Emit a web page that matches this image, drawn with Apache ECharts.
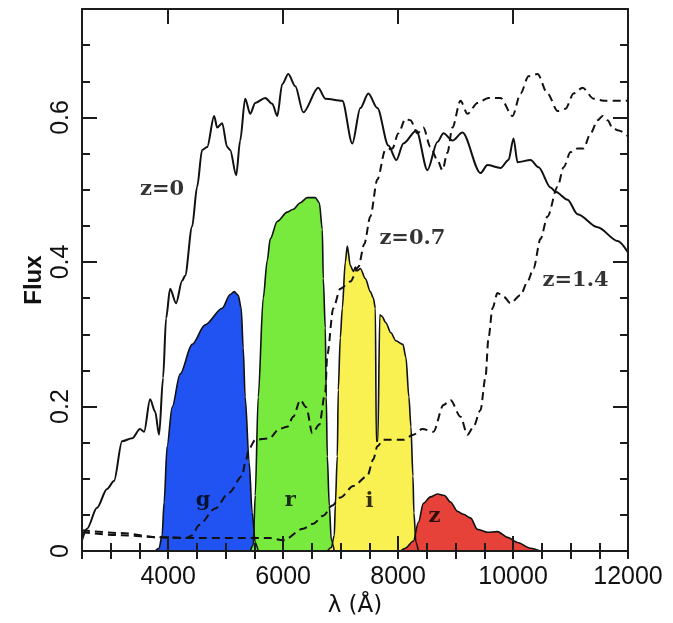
<!DOCTYPE html>
<html lang="en">
    <head>
        <meta charset="UTF-8" />
        <title>Spectra and ugriz filters</title>
        <script src="https://cdn.jsdelivr.net/npm/echarts@6.0.0/dist/echarts.min.js"></script>
    </head>
    <body style="margin: 0; background: #fff">
        <!-- Chart container -->
        <div id="main" style="width: 673px; height: 623px"></div>

        <script>
            // Wavelength (Angstrom), flux pairs
            const z0Spectrum = [
                [2500, 0.015], [2587, 0.031], [2761, 0.06], [2936, 0.086], [3057, 0.097],
                [3197, 0.152], [3371, 0.156], [3510, 0.169], [3580, 0.165], [3685, 0.21],
                [3772, 0.193], [3841, 0.161], [3911, 0.24], [3963, 0.322], [4033, 0.363],
                [4137, 0.343], [4242, 0.374], [4294, 0.381], [4416, 0.449], [4503, 0.504],
                [4590, 0.555], [4678, 0.559], [4799, 0.602], [4852, 0.586], [4939, 0.592],
                [5026, 0.559], [5078, 0.555], [5183, 0.52], [5252, 0.568], [5339, 0.626],
                [5427, 0.605], [5514, 0.62], [5688, 0.627], [5810, 0.619], [5897, 0.602],
                [5984, 0.646], [6089, 0.66], [6211, 0.643], [6350, 0.607], [6611, 0.641],
                [6733, 0.626], [7029, 0.623], [7203, 0.564], [7343, 0.613], [7482, 0.633],
                [7639, 0.613], [7831, 0.561], [7970, 0.541], [8092, 0.564], [8318, 0.582],
                [8510, 0.527], [8684, 0.566], [8789, 0.578], [8945, 0.568], [9120, 0.579],
                [9433, 0.523], [9555, 0.534], [9782, 0.53], [9921, 0.541], [10008, 0.571],
                [10078, 0.538], [10304, 0.541], [10444, 0.531], [10653, 0.503], [10740, 0.497],
                [10949, 0.486], [11123, 0.466], [11471, 0.448], [11820, 0.429], [12000, 0.413]
            ];

            const z07Spectrum = [
                [2500, 0.029], [3162, 0.025], [3858, 0.019], [4329, 0.018], [4416, 0.022],
                [4538, 0.036], [4817, 0.059], [5061, 0.081], [5287, 0.104], [5339, 0.122],
                [5409, 0.142], [5514, 0.154], [5758, 0.156], [5932, 0.169], [6071, 0.172],
                [6176, 0.186], [6298, 0.209], [6402, 0.199], [6507, 0.163], [6629, 0.175],
                [6733, 0.22], [6768, 0.272], [6872, 0.336], [6994, 0.363], [7169, 0.373],
                [7308, 0.393], [7412, 0.425], [7517, 0.463], [7639, 0.514], [7778, 0.555],
                [7900, 0.557], [8005, 0.578], [8127, 0.598], [8214, 0.596], [8336, 0.578],
                [8440, 0.586], [8562, 0.559], [8684, 0.541], [8771, 0.527], [8858, 0.551],
                [8945, 0.586], [9085, 0.623], [9207, 0.605], [9381, 0.62], [9573, 0.627],
                [9782, 0.627], [9991, 0.602], [10130, 0.633], [10269, 0.657], [10426, 0.66],
                [10600, 0.633], [10775, 0.609], [10914, 0.612], [11053, 0.633], [11210, 0.641],
                [11401, 0.626], [11576, 0.623], [12000, 0.623]
            ];

            const z14Spectrum = [
                [2500, 0.026], [3162, 0.022], [3858, 0.019], [4556, 0.018], [5252, 0.018],
                [5775, 0.018], [6001, 0.015], [6350, 0.031], [6524, 0.038], [6698, 0.049],
                [6855, 0.063], [6994, 0.074], [7221, 0.09], [7465, 0.104], [7569, 0.127],
                [7639, 0.145], [7743, 0.154], [8092, 0.154], [8266, 0.161], [8423, 0.169],
                [8614, 0.165], [8789, 0.202], [8911, 0.209], [9085, 0.186], [9207, 0.161],
                [9311, 0.172], [9433, 0.195], [9520, 0.24], [9573, 0.295], [9642, 0.336],
                [9729, 0.357], [9834, 0.352], [9956, 0.343], [10130, 0.354], [10252, 0.373],
                [10356, 0.391], [10478, 0.432], [10600, 0.463], [10775, 0.504], [10879, 0.531],
                [11001, 0.552], [11123, 0.557], [11227, 0.557], [11349, 0.578], [11471, 0.596],
                [11558, 0.602], [11646, 0.596], [11733, 0.585], [11837, 0.582], [12000, 0.574]
            ];

            // Filter transmission curves (scaled)
            const gFilter = [
                [3772, 0], [3841, 0.004], [3894, 0.022], [3928, 0.067], [3981, 0.145],
                [4068, 0.199], [4207, 0.245], [4416, 0.286], [4643, 0.313], [4939, 0.336],
                [5078, 0.355], [5148, 0.359], [5218, 0.354], [5270, 0.336], [5305, 0.281],
                [5339, 0.213], [5409, 0.122], [5461, 0.053], [5514, 0.012], [5566, 0]
            ];

            const rFilter = [
                [5427, 0], [5479, 0.008], [5514, 0.077], [5566, 0.213], [5653, 0.35],
                [5723, 0.402], [5775, 0.432], [5897, 0.456], [6071, 0.469], [6176, 0.473],
                [6298, 0.482], [6420, 0.489], [6559, 0.489], [6629, 0.482], [6681, 0.445],
                [6698, 0.377], [6733, 0.309], [6750, 0.213], [6768, 0.131], [6803, 0.063],
                [6838, 0.015], [6890, 0]
            ];

            const iFilter = [
                [6768, 0], [6838, 0.005], [6890, 0.022], [6907, 0.063], [6942, 0.131],
                [6959, 0.223], [6994, 0.295], [7029, 0.336], [7081, 0.4], [7116, 0.422],
                [7169, 0.395], [7221, 0.387], [7256, 0.393], [7290, 0.388], [7343, 0.391],
                [7430, 0.377], [7517, 0.359], [7569, 0.35], [7604, 0.336], [7621, 0.152],
                [7647, 0.152], [7682, 0.327], [7717, 0.325], [7787, 0.316], [7874, 0.302],
                [7961, 0.291], [8083, 0.286], [8136, 0.268], [8188, 0.213], [8223, 0.172],
                [8258, 0.104], [8275, 0.053], [8310, 0.012], [8353, 0]
            ];

            const zFilter = [
                [8040, 0], [8127, 0.004], [8266, 0.014], [8353, 0.04], [8440, 0.066],
                [8562, 0.075], [8684, 0.079], [8806, 0.077], [8911, 0.068], [9033, 0.055],
                [9137, 0.051], [9259, 0.046], [9381, 0.03], [9555, 0.026], [9729, 0.027],
                [9904, 0.019], [10078, 0.012], [10304, 0.004], [10478, 0]
            ];

            // Tick labels
            const xTickLabels = [4000, 6000, 8000, 10000, 12000];
            const yTickLabels = [0, 0.2, 0.4, 0.6];

            // Text annotations placed in data coordinates: [lambda, flux, text]
            const annotations = [
                [3894, 0.5, "z=0"],
                [8249, 0.432, "z=0.7"],
                [11088, 0.374, "z=1.4"],
                [4608, 0.07, "g"],
                [6123, 0.07, "r"],
                [7500, 0.068, "i"],
                [8632, 0.048, "z"]
            ];

            const ink = "#111";
            const tickStyle = { color: "#1c1c1c", width: 2 };

            function xAxisPair(position, withLabels) {
                return [
                    {
                        type: "value", position: position, min: 2500, max: 12000, z: 5,
                        axisLine: { show: true, onZero: false, lineStyle: tickStyle },
                        axisTick: { show: true, inside: true, length: 15, customValues: xTickLabels, lineStyle: tickStyle },
                        axisLabel: {
                            show: withLabels, customValues: xTickLabels, margin: 14,
                            formatter: (v) => String(v),
                            fontFamily: "Liberation Sans", fontSize: 25, color: ink
                        },
                        splitLine: { show: false },
                        name: withLabels ? "λ (Å)" : "",
                        nameLocation: "middle", nameGap: 41,
                        nameTextStyle: { fontFamily: "DejaVu Sans", fontSize: 23, color: ink }
                    },
                    {
                        type: "value", position: position, min: 2500, max: 12000, interval: 500, z: 5,
                        axisLine: { show: false },
                        axisTick: { show: true, inside: true, length: 8, lineStyle: tickStyle },
                        axisLabel: { show: false },
                        splitLine: { show: false }
                    }
                ];
            }

            function yAxisPair(position, withLabels) {
                return [
                    {
                        type: "value", position: position, min: 0, max: 0.75, z: 5,
                        axisLine: { show: true, onZero: false, lineStyle: tickStyle },
                        axisTick: { show: true, inside: true, length: 15, customValues: yTickLabels, lineStyle: tickStyle },
                        axisLabel: {
                            show: withLabels, customValues: yTickLabels, rotate: 90, margin: 8,
                            fontFamily: "Liberation Sans", fontSize: 25, color: ink
                        },
                        splitLine: { show: false },
                        name: withLabels ? "Flux" : "",
                        nameLocation: "middle", nameGap: 36, nameMoveOverlap: false,
                        nameTextStyle: { fontFamily: "Liberation Sans", fontWeight: "bold", fontSize: 24, color: ink }
                    },
                    {
                        type: "value", position: position, min: 0, max: 0.75, interval: 0.05, z: 5,
                        axisLine: { show: false },
                        axisTick: { show: true, inside: true, length: 8, lineStyle: tickStyle },
                        axisLabel: { show: false },
                        splitLine: { show: false }
                    }
                ];
            }

            function filterSeries(name, data, fill) {
                return {
                    name: name, type: "line", data: data, symbol: "none",
                    smooth: 0.3, smoothMonotone: "x",
                    lineStyle: { color: "#111", width: 1.6 },
                    areaStyle: { color: fill, opacity: 1 },
                    z: 2
                };
            }

            function spectrumSeries(name, data, dashed) {
                return {
                    name: name, type: "line", data: data, symbol: "none",
                    smooth: 0.3, smoothMonotone: "x",
                    lineStyle: { color: "#111", width: 2, type: dashed ? [8, 5] : "solid" },
                    z: 3
                };
            }

            let myChart = echarts.init(document.getElementById("main"));

            let options = {
                animation: false,
                backgroundColor: "#fff",
                grid: { left: 82, right: 45, top: 9, bottom: 67 },
                xAxis: xAxisPair("bottom", true).concat(xAxisPair("top", false)),
                yAxis: yAxisPair("left", true).concat(yAxisPair("right", false)),
                series: [
                    filterSeries("g", gFilter, "#2152f2"),
                    filterSeries("r", rFilter, "#78ea3e"),
                    filterSeries("i", iFilter, "#f9f152"),
                    filterSeries("z", zFilter, "#e6423a"),
                    spectrumSeries("z=0", z0Spectrum, false),
                    spectrumSeries("z=0.7", z07Spectrum, true),
                    spectrumSeries("z=1.4", z14Spectrum, true),
                    {
                        type: "scatter", symbolSize: 0, silent: true, z: 4,
                        data: annotations.map((a) => ({ value: [a[0], a[1]], name: a[2] })),
                        label: {
                            show: true, position: "inside", formatter: (p) => p.name,
                            fontFamily: "DejaVu Serif", fontWeight: "bold", fontSize: 21,
                            color: "#000", textBorderWidth: 0
                        }
                    }
                ]
            };

            myChart.setOption(options);
        </script>
    </body>
</html>
